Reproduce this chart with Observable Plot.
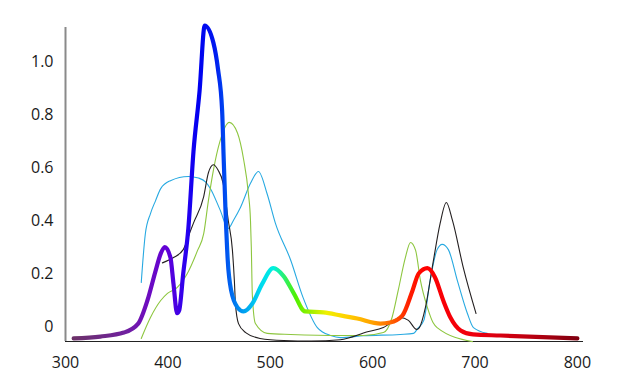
<!DOCTYPE html>
<html><head><meta charset="utf-8">
<script src="https://cdn.jsdelivr.net/npm/d3@7"></script>
<script src="https://cdn.jsdelivr.net/npm/@observablehq/plot@0.6"></script>
<style>body{margin:0;background:#fff}</style>
</head><body><div id="chart"></div>
<script>
const xTicks = [300, 400, 500, 600, 700, 800];
const yTicks = [0, 0.2, 0.4, 0.6, 0.8, 1.0];

const spectrumWl  = [308, 334, 357, 371, 380, 388, 393, 397, 402.5, 405.5, 409, 411, 415, 420, 425, 431, 436, 444.5, 449, 453, 454.6, 456.3, 458.5, 461.8, 468, 474, 482.6, 492, 503, 513, 523, 534, 552, 568.5, 585, 607.6, 617, 629, 639, 645, 653.5, 661, 669, 676, 686, 698, 725, 800];
const spectrumVal = [-0.045, -0.038, -0.023, 0.011, 0.098, 0.21, 0.275, 0.30, 0.26, 0.16, 0.05, 0.06, 0.20, 0.37, 0.66, 0.89, 1.135, 1.07, 0.97, 0.815, 0.626, 0.438, 0.249, 0.136, 0.072, 0.057, 0.087, 0.16, 0.22, 0.19, 0.125, 0.057, 0.053, 0.042, 0.030, 0.011, 0.015, 0.041, 0.136, 0.20, 0.22, 0.185, 0.098, 0.034, -0.015, -0.03, -0.034, -0.045];

const cyanWl  = [374, 378, 383, 388, 393, 402.5, 420, 430, 437, 441.6, 451, 459, 464, 471, 480.7, 488.5, 497, 505, 520, 532, 546, 559, 568.5, 591, 627, 640, 644, 650, 656, 663, 668, 674, 683, 692.6, 698.5, 712];
const cyanVal = [0.166, 0.35, 0.426, 0.475, 0.52, 0.55, 0.566, 0.56, 0.545, 0.52, 0.44, 0.37, 0.40, 0.45, 0.54, 0.585, 0.50, 0.39, 0.25, 0.11, -0.004, -0.034, -0.042, -0.035, -0.03, -0.026, -0.008, 0.023, 0.17, 0.29, 0.31, 0.29, 0.17, 0.049, -0.004, -0.026];

const blackWl  = [394.7, 405.5, 415, 422, 425, 435, 439.6, 444.5, 449, 454, 459, 463, 465, 466, 469, 476, 490, 513, 540, 568.5, 595, 610.5, 627, 635, 643, 645.7, 651.6, 659, 666, 672, 678, 688.7, 701];
const blackVal = [0.24, 0.26, 0.29, 0.36, 0.39, 0.49, 0.58, 0.61, 0.59, 0.54, 0.40, 0.29, 0.17, 0.087, 0.011, -0.023, -0.045, -0.053, -0.055, -0.05, -0.02, -0.004, 0.034, 0.023, -0.011, -0.004, 0.072, 0.24, 0.39, 0.468, 0.40, 0.22, 0.049];

const greenWl  = [374, 383, 393, 399.6, 409, 419, 429, 435, 439.6, 444.5, 451, 460, 468, 474, 478.7, 480.7, 481.5, 482.5, 485.5, 497, 520, 568.5, 591, 610.5, 619, 625, 632, 637, 642, 646.7, 653.5, 659, 663, 697.5];
const greenVal = [-0.045, 0.034, 0.098, 0.125, 0.147, 0.20, 0.287, 0.35, 0.475, 0.59, 0.70, 0.77, 0.73, 0.63, 0.50, 0.40, 0.30, 0.12, 0.011, -0.026, -0.03, -0.034, -0.034, -0.023, 0.034, 0.136, 0.26, 0.317, 0.287, 0.174, 0.072, 0.015, -0.004, -0.057];

const toRows = (xs, ys) => xs.map((x, i) => ({x, y: ys[i]}));

// colour stops of the spectrum stroke (style only)
const stopWl    = [305, 360, 375, 400, 418, 430, 446, 458, 472, 490, 503, 515, 525, 540, 555, 575, 600, 615, 635, 650, 700, 750, 800];
const stopColor = ["#6c3366", "#7020a0", "#7010b8", "#6000d8", "#2800f0", "#0000f0", "#0018f0", "#0058f0", "#0098f0", "#00d8f0", "#00f0e0", "#30f060", "#50f000", "#a0f000", "#f0f000", "#ffd000", "#ffa000", "#ff7000", "#ff2000", "#ff0000", "#ee0010", "#c00010", "#800010"];

const yMin = -0.0566, yMax = 1.128;

const gradientDefs = (index, scales) => {
  const defs = d3.create("svg:defs");
  const w0 = stopWl[0], w1 = stopWl[stopWl.length - 1];
  const g = defs.append("linearGradient").attr("id", "spectrum")
    .attr("gradientUnits", "userSpaceOnUse")
    .attr("x1", scales.x(w0)).attr("x2", scales.x(w1)).attr("y1", 0).attr("y2", 0);
  stopWl.forEach((w, i) => g.append("stop").attr("offset", (w - w0) / (w1 - w0)).attr("stop-color", stopColor[i]));
  return defs.node();
};

const chart = Plot.plot({
  width: 621, height: 387,
  marginLeft: 65, marginRight: 38, marginTop: 27, marginBottom: 46,
  x: {domain: [300, 806]},
  y: {domain: [yMin, yMax]},
  style: {fontFamily: "'Open Sans', sans-serif", fontSize: "16px", color: "#1a1a1a", background: "#fff"},
  marks: [
    gradientDefs,
    Plot.ruleX([300], {stroke: "#8a8a8a", strokeWidth: 2}),
    Plot.ruleY([yMin], {stroke: "#222", strokeWidth: 1.2}),
    Plot.axisX({ticks: xTicks, tickSize: 0, tickPadding: 15, fontSize: 16, label: null}),
    Plot.axisY({ticks: yTicks, tickSize: 0, tickPadding: 12, fontSize: 16, label: null, tickFormat: d => d === 0 ? "0" : d.toFixed(1)}),
    Plot.line(toRows(cyanWl, cyanVal), {x: "x", y: "y", stroke: "#27a9e1", strokeWidth: 1.1, curve: "monotone-x"}),
    Plot.line(toRows(greenWl, greenVal), {x: "x", y: "y", stroke: "#8dc63f", strokeWidth: 1.1, curve: "monotone-x"}),
    Plot.line(toRows(blackWl, blackVal), {x: "x", y: "y", stroke: "#231f20", strokeWidth: 1.1, curve: "monotone-x"}),
    Plot.line(toRows(spectrumWl, spectrumVal), {x: "x", y: "y", stroke: "url(#spectrum)", strokeWidth: 4.2, strokeLinecap: "round", strokeLinejoin: "round", curve: "monotone-x"})
  ]
});
document.getElementById("chart").appendChild(chart);
</script>
</body></html>
